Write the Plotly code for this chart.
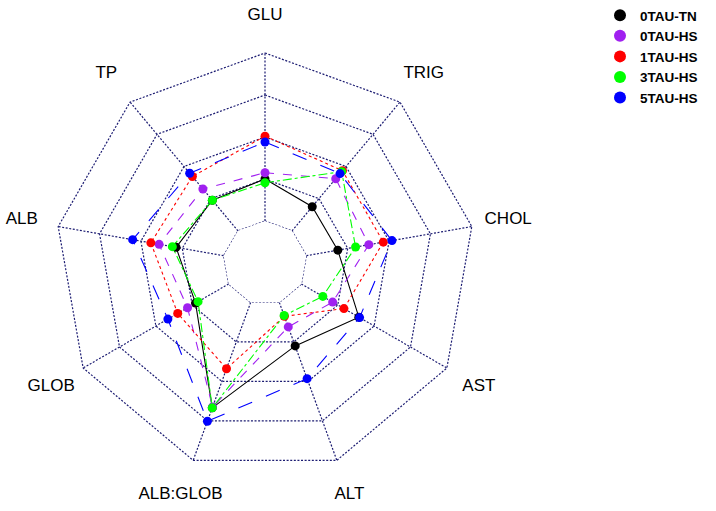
import plotly.graph_objects as go

categories = ["GLU", "TRIG", "CHOL", "AST", "ALT", "ALB:GLOB", "GLOB", "ALB", "TP"]
series_names = ["0TAU-TN", "0TAU-HS", "1TAU-HS", "3TAU-HS", "5TAU-HS"]
tau0_tn = [1.00, 0.75, 0.76, 1.58, 1.10, 2.67, 0.91, 1.15, 0.95]
tau0_hs = [1.15, 1.62, 1.51, 0.86, 0.62, 2.65, 1.13, 1.56, 1.30]
tau1_hs = [2.02, 1.87, 1.86, 1.17, 0.35, 1.68, 1.40, 1.76, 1.69]
tau3_hs = [0.91, 1.84, 1.19, 0.59, 0.33, 2.67, 0.84, 1.24, 0.95]
tau5_hs = [1.88, 1.78, 2.07, 1.60, 1.93, 3.01, 1.67, 2.20, 1.79]
grid_levels = [0, 1, 2, 3, 4]
label_radius = 4.88
radial_max = 4.9

values = [tau0_tn, tau0_hs, tau1_hs, tau3_hs, tau5_hs]
colors = ["#000000", "#a020f0", "#ff0000", "#00ff00", "#0000ff"]
dashes = ["solid", "dash", "dot", "dashdot", "longdash"]
grid_color = "#1c1c72"
grid_dash = "2px,1.6px"

theta_closed = categories + categories[:1]

fig = go.Figure()

# grid rings
for lv in grid_levels:
    fig.add_trace(go.Scatterpolar(
        r=[lv] * len(theta_closed), theta=theta_closed, mode="lines",
        line=dict(color=grid_color, width=1.2, dash=grid_dash),
        showlegend=False, hoverinfo="skip"))

# spokes (from innermost to outermost ring)
spoke_r, spoke_t = [], []
for c in categories:
    spoke_r += [grid_levels[0], grid_levels[-1], None]
    spoke_t += [c, c, None]
fig.add_trace(go.Scatterpolar(
    r=spoke_r, theta=spoke_t, mode="lines", connectgaps=False,
    line=dict(color=grid_color, width=1.2, dash=grid_dash),
    showlegend=False, hoverinfo="skip"))

# series lines
for name, vals, c, d in zip(series_names, values, colors, dashes):
    fig.add_trace(go.Scatterpolar(
        r=vals + vals[:1], theta=theta_closed, mode="lines",
        line=dict(color=c, width=1.1, dash=d),
        showlegend=False, hoverinfo="skip"))

# series markers (legend entries)
for name, vals, c in zip(series_names, values, colors):
    fig.add_trace(go.Scatterpolar(
        r=vals, theta=categories, mode="markers", name=name,
        marker=dict(color=c, size=9)))

# axis labels
fig.add_trace(go.Scatterpolar(
    r=[label_radius] * len(categories), theta=categories, mode="text",
    text=categories, textposition="middle center", cliponaxis=False,
    textfont=dict(family="Liberation Sans, Arial", size=17, color="#000000"),
    showlegend=False, hoverinfo="skip"))

R_px = 42 * (1 + radial_max)
cx, cy_b = 265, 248
fig.update_layout(
    width=716, height=511,
    margin=dict(l=0, r=0, t=0, b=0),
    paper_bgcolor="white", plot_bgcolor="white",
    polar=dict(
        domain=dict(x=[(cx - R_px) / 716, (cx + R_px) / 716],
                    y=[max(0, (cy_b - R_px) / 511), (cy_b + R_px) / 511]),
        hole=42 / R_px,
        gridshape="linear",
        bgcolor="white",
        radialaxis=dict(range=[0, radial_max], showgrid=False, showline=False,
                        showticklabels=False, ticks=""),
        angularaxis=dict(rotation=90, direction="clockwise", showline=False,
                         showticklabels=False, ticks="", showgrid=False),
    ),
    legend=dict(x=600 / 716, y=1.0, xanchor="left", yanchor="top",
                font=dict(family="Liberation Sans, Arial", size=13.5, color="#000000", weight="bold"),
                tracegroupgap=0, itemsizing="constant", bgcolor="rgba(0,0,0,0)"),
)

fig.write_html("out.html")
